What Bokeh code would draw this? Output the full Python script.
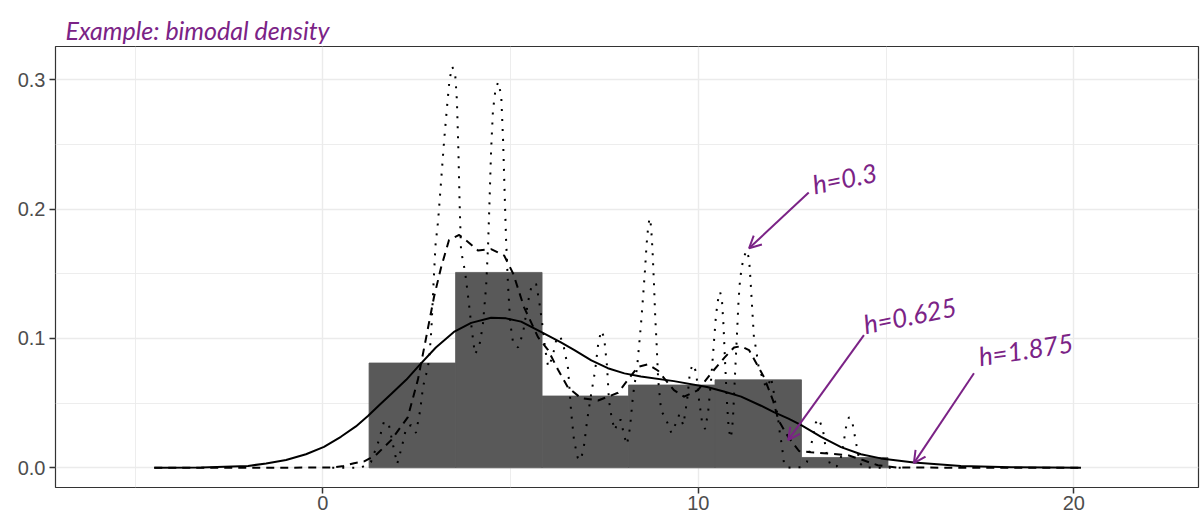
from bokeh.plotting import figure
from bokeh.models import Range1d, FixedTicker, PrintfTickFormatter, Arrow, OpenHead, Label
from bokeh.embed import file_html
from bokeh.resources import INLINE

# ---- data ----
bin_edges = [1.231, 3.535, 5.838, 8.141, 10.444, 12.747, 15.050]
bin_density = [0.081, 0.151, 0.0555, 0.064, 0.068, 0.008]

# density, bandwidth h = 1.875 (solid)
x_h1875 = [-4.49, -3.24, -1.99, -1.51, -0.98, -0.45, 0.03, 0.48, 0.88, 1.20,
           1.52, 1.82, 2.22, 2.56, 3.01, 3.49, 3.95, 4.48, 4.88, 5.28,
           5.81, 6.34, 6.70, 7.15, 7.59, 8.03, 8.47, 9.35, 10.23, 10.68,
           11.14, 11.67, 12.01, 12.40, 12.74, 13.27, 13.80, 14.33, 14.86, 15.74,
           16.99, 18.33, 20.19]
y_h1875 = [0, 0.0003, 0.0015, 0.0033, 0.006, 0.0105, 0.0162, 0.024, 0.032, 0.040,
           0.049, 0.057, 0.068, 0.079, 0.093, 0.105, 0.112, 0.116, 0.1155, 0.113,
           0.105, 0.097, 0.091, 0.083, 0.077, 0.073, 0.0705, 0.067, 0.0625, 0.059,
           0.055, 0.048, 0.043, 0.038, 0.033, 0.024, 0.016, 0.0105, 0.0073, 0.0042,
           0.0015, 0.0004, 0]

# density, bandwidth h = 0.625 (dashed)
x_h0625 = [-4.49, 0.22, 0.56, 0.83, 1.10, 1.41, 1.82, 2.26, 2.53, 2.74,
           2.96, 3.15, 3.36, 3.63, 3.89, 4.13, 4.48, 4.83, 5.07, 5.36,
           5.73, 6.00, 6.26, 6.53, 6.87, 7.33, 7.86, 8.39, 8.66, 8.93,
           9.35, 9.62, 9.99, 10.34, 10.69, 10.95, 11.14, 11.35, 11.54, 11.75,
           11.99, 12.13, 12.39, 12.68, 13.00, 13.45, 13.98, 14.38, 14.78, 15.31,
           20.19]
y_h0625 = [0, 0.0002, 0.0015, 0.0036, 0.005, 0.0098, 0.0214, 0.039, 0.068, 0.099,
           0.132, 0.155, 0.176, 0.180, 0.174, 0.168, 0.169, 0.164, 0.150, 0.124,
           0.101, 0.091, 0.076, 0.062, 0.054, 0.052, 0.058, 0.078, 0.080, 0.075,
           0.060, 0.055, 0.060, 0.073, 0.085, 0.093, 0.094, 0.091, 0.081, 0.070,
           0.052, 0.037, 0.024, 0.013, 0.012, 0.011, 0.0098, 0.006, 0.002, 0.0002,
           0]

# density, bandwidth h = 0.3 (dotted)
x_h03 = [0.25, 1.02, 1.28, 1.49, 1.63, 1.76, 1.87, 1.98, 2.11, 2.22,
         2.35, 2.48, 2.59, 2.67, 2.75, 2.83, 2.89, 2.94, 3.00, 3.07,
         3.15, 3.23, 3.31, 3.37, 3.44, 3.52, 3.57, 3.61, 3.64, 3.68,
         3.79, 3.89, 3.97, 4.05, 4.16, 4.26, 4.35, 4.40, 4.44, 4.48,
         4.53, 4.60, 4.67, 4.75, 4.80, 4.84, 4.88, 4.93, 4.99, 5.07,
         5.20, 5.33, 5.47, 5.57, 5.68, 5.76, 5.84, 5.92, 6.00, 6.11,
         6.21, 6.32, 6.42, 6.53, 6.61, 6.69, 6.79, 6.87, 6.95, 7.04,
         7.14, 7.25, 7.33, 7.41, 7.49, 7.57, 7.62, 7.70, 7.78, 7.86,
         7.94, 8.02, 8.10, 8.18, 8.26, 8.37, 8.47, 8.53, 8.58, 8.62,
         8.66, 8.70, 8.74, 8.78, 8.82, 8.85, 8.89, 8.93, 9.01, 9.12,
         9.20, 9.28, 9.38, 9.49, 9.60, 9.70, 9.78, 9.86, 9.94, 10.02,
         10.10, 10.18, 10.26, 10.34, 10.42, 10.47, 10.53, 10.58, 10.63, 10.67,
         10.71, 10.76, 10.81, 10.87, 10.92, 10.97, 11.03, 11.07, 11.11, 11.16,
         11.23, 11.28, 11.35, 11.39, 11.43, 11.48, 11.53, 11.61, 11.72, 11.80,
         11.88, 11.93, 11.99, 12.04, 12.12, 12.17, 12.23, 12.28, 12.36, 12.73,
         12.89, 13.03, 13.13, 13.21, 13.32, 13.42, 13.53, 13.69, 13.82, 13.93,
         14.01, 14.09, 14.19, 14.30, 14.43, 15.47]
y_h03 = [0, 0.0002, 0.0044, 0.021, 0.036, 0.033, 0.0175, 0.003, 0.017, 0.031,
         0.033, 0.027, 0.044, 0.063, 0.072, 0.083, 0.107, 0.138, 0.172, 0.191,
         0.222, 0.253, 0.280, 0.299, 0.310, 0.306, 0.284, 0.245, 0.207, 0.168,
         0.151, 0.127, 0.106, 0.088, 0.093, 0.110, 0.141, 0.172, 0.207, 0.245,
         0.276, 0.293, 0.298, 0.288, 0.253, 0.214, 0.176, 0.142, 0.112, 0.096,
         0.093, 0.104, 0.129, 0.142, 0.142, 0.129, 0.112, 0.092, 0.078, 0.085,
         0.098, 0.102, 0.093, 0.077, 0.044, 0.021, 0.0075, 0.006, 0.016, 0.037,
         0.056, 0.075, 0.095, 0.106, 0.101, 0.078, 0.052, 0.037, 0.029, 0.037,
         0.037, 0.025, 0.018, 0.031, 0.056, 0.078, 0.110, 0.133, 0.153, 0.172,
         0.185, 0.193, 0.187, 0.168, 0.141, 0.118, 0.095, 0.068, 0.044, 0.039,
         0.033, 0.027, 0.033, 0.041, 0.033, 0.052, 0.075, 0.080, 0.074, 0.052,
         0.035, 0.030, 0.043, 0.068, 0.099, 0.118, 0.131, 0.136, 0.129, 0.110,
         0.083, 0.052, 0.029, 0.023, 0.037, 0.068, 0.104, 0.129, 0.145, 0.156,
         0.164, 0.168, 0.162, 0.145, 0.125, 0.101, 0.093, 0.077, 0.069, 0.062,
         0.065, 0.070, 0.062, 0.052, 0.039, 0.027, 0.016, 0.0036, 0.0002, 0.0005,
         0.0044, 0.021, 0.035, 0.038, 0.029, 0.0098, 0.0013, 0.0013, 0.0098, 0.031,
         0.039, 0.037, 0.021, 0.0036, 0.0002, 0]

x_ticks = [0, 10, 20]
x_minor = [-5, 5, 15]
y_ticks = [0.0, 0.1, 0.2, 0.3]
y_minor = [0.05, 0.15, 0.25]

title_text = "Example: bimodal density"
ann_text = ["h=0.3", "h=0.625", "h=1.875"]
ann_x = [13.13, 14.49, 17.53]
ann_y = [0.2067, 0.0986, 0.0739]
ann_angle = [0.2, 0.2, 0.15]
arrow_x0 = [12.94, 14.41, 17.34]
arrow_y0 = [0.2127, 0.1025, 0.0731]
arrow_x1 = [11.35, 12.39, 15.74]
arrow_y1 = [0.1697, 0.0214, 0.0036]

PURPLE = "#7b2386"

p = figure(width=1203, height=519, output_backend="svg", toolbar_location=None,
           x_range=Range1d(-7.12, 23.32), y_range=Range1d(-0.0152, 0.3256),
           min_border_left=55, min_border_right=5, min_border_top=46,
           min_border_bottom=32, title=title_text)

p.background_fill_color = "white"
p.border_fill_color = "white"
p.outline_line_color = "#333333"
p.outline_line_width = 1.2

p.title.text_font = "Lato"
p.title.text_font_style = "italic"
p.title.text_font_size = "25px"
p.title.text_color = PURPLE
p.title.align = "left"
p.title.offset = 10
p.title.standoff = 3

p.xaxis.ticker = FixedTicker(ticks=x_ticks, minor_ticks=x_minor)
p.yaxis.ticker = FixedTicker(ticks=y_ticks, minor_ticks=y_minor)
p.yaxis.formatter = PrintfTickFormatter(format="%.1f")

for ax in (p.xaxis, p.yaxis):
    ax.axis_line_color = None
    ax.major_tick_line_color = "#333333"
    ax.major_tick_line_width = 1.5
    ax.major_tick_in = 0
    ax.major_tick_out = 6
    ax.minor_tick_line_color = None
    ax.major_label_text_color = "#4D4D4D"
    ax.major_label_text_font = "Liberation Sans"
    ax.major_label_text_font_size = "20px"
p.xaxis.major_label_standoff = 2
p.yaxis.major_label_standoff = 4

for g in (p.xgrid, p.ygrid):
    g.grid_line_color = "#EBEBEB"
    g.grid_line_width = 1.4
    g.minor_grid_line_color = "#EBEBEB"
    g.minor_grid_line_width = 0.9

p.quad(left=bin_edges[:-1], right=bin_edges[1:], bottom=0, top=bin_density,
       fill_color="#595959", line_color="#595959", line_width=0.8)

p.line(x_h1875, y_h1875, line_color="black", line_width=2, line_join="round")
p.line(x_h0625, y_h0625, line_color="black", line_width=2, line_dash="8 6",
       line_join="round")
p.line(x_h03, y_h03, line_color="black", line_width=2, line_dash="2 8")

for i in range(3):
    p.add_layout(Arrow(end=OpenHead(size=12, line_color=PURPLE, line_width=2),
                       x_start=arrow_x0[i], y_start=arrow_y0[i],
                       x_end=arrow_x1[i], y_end=arrow_y1[i],
                       line_color=PURPLE, line_width=2))
    p.add_layout(Label(x=ann_x[i], y=ann_y[i], text=ann_text[i], angle=ann_angle[i],
                       text_font="Lato", text_font_style="italic",
                       text_font_size="26px", text_color=PURPLE,
                       text_baseline="bottom", text_align="left"))

open("out.html", "w").write(file_html(p, INLINE))
